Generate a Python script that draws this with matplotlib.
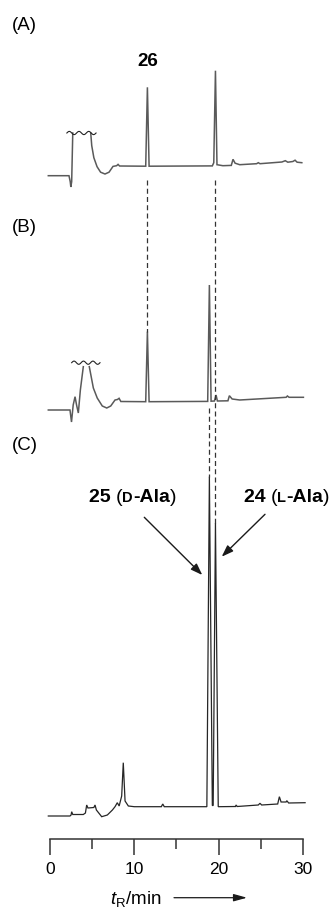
import numpy as np
import matplotlib
matplotlib.use('Agg')
import matplotlib.pyplot as plt
from matplotlib.offsetbox import TextArea, HPacker, AnnotationBbox

plt.rcParams['font.family'] = ['Liberation Sans', 'DejaVu Sans']
plt.rcParams['mathtext.fontset'] = 'custom'
plt.rcParams['mathtext.rm'] = 'Liberation Sans'
plt.rcParams['mathtext.it'] = 'Liberation Sans:italic'

nan = np.nan

# chromatogram (A): retention time [min] and detector signal [a.u.]
A_t = [-0.2, 2.25, 2.4, 2.47, 2.57, 2.7, nan,
       4.83, 4.95, 5.2, 5.58, 6.0, 6.52, 7.0, 7.47, 7.9, 8.07, 8.25,
       11.35, 11.55, 11.75, 19.25, 19.42, 19.62, 19.8, 20.5, 21.5, 21.7,
       21.95, 22.5, 24.5, 24.7, 24.9, 27.5, 27.9, 28.2, 28.8, 29.06, 29.3, 29.86]
A_s = [0, 0, -6, -11.3, -6, 42.7, nan,
       42.7, 30, 18, 9, 3.5, 1.7, 3.5, 9.3, 10, 11.3, 9.7,
       9.5, 88.4, 9.5, 9.8, 13, 105, 11, 10, 10.3, 16.4,
       12.5, 11, 12, 13, 12, 13.7, 15, 13.5, 14.2, 15.5, 13.5, 13]

# chromatogram (B)
B_t = [-0.2, 2.37, 2.55, 2.75, 2.97, 3.15, 3.36, 3.6, 3.95, nan,
       4.66, 5.14, 5.6, 6.2, 6.73, 7.2, 7.71, 8.0, 8.19, 8.4,
       11.35, 11.55, 11.75, 18.7, 18.9, 19.1, 19.5, 19.69, 19.85,
       21.1, 21.27, 21.6, 22.5, 28.0, 28.15, 28.35, 30.05]
B_s = [0, 0, -12, 5, 13.3, 5, -3, 20, 43.3, nan,
       43.3, 22, 12, 4, 2, 4, 10, 10.5, 11.7, 8.5,
       8.3, 78.3, 8.3, 8.6, 125, 8.8, 9, 15, 9,
       9.2, 14.3, 11, 10, 12.7, 14, 12.7, 12.7]

# chromatogram (C)
C_t = [-0.2, 2.37, 2.5, 2.57, 2.7, 3.95, 4.2, 4.35, 4.5, 5.2, 5.34, 5.5,
       6.13, 6.8, 7.4, 7.71, 7.98, 8.2, 8.5, 8.69, 8.9, 9.29, 10.0,
       13.2, 13.37, 13.55, 18.6, 18.9, 19.25, 19.35, 19.62, 19.95,
       22.0, 22.06, 22.2, 24.7, 24.9, 25.1, 27.0, 27.2, 27.4, 28.0,
       28.08, 28.3, 30.25]
C_s = [0, 0, 1, 4.3, 1.5, 1.5, 3, 11, 8, 8.5, 11, 6,
       -0.7, 1, 6, 9.3, 13.3, 10, 20, 53.3, 15, 10, 9.3,
       9.3, 12, 9.3, 9.3, 339.3, 10.5, 10.5, 293, 9.3,
       9.5, 11, 9.5, 11, 12.7, 11, 12, 19.3, 14, 14,
       15.3, 13, 13.3]

# clipped solvent fronts (A, B): time span of the break symbol
A_clip = (2.0, 5.46)
B_clip = (2.57, 5.93)

x_ticks = [0, 10, 20, 30]
x_minor = [5, 15, 25]

# layout (pixels from the top)
W, H = 332, 909
PX = 8.433           # pixels per minute
X0 = 50              # pixel of t = 0
base = {'A': 175.7, 'B': 410.0, 'C': 816.0}

fig = plt.figure(figsize=(W / 100, H / 100), dpi=100)
ax = fig.add_axes([0, 0, 1, 1])
ax.set_xlim(-X0 / PX, (W - X0) / PX)
ax.set_ylim(H, 0)
ax.axis('off')

grey = '#5a5a5a'
dark = '#262626'

def yv(key, s):
    return base[key] - np.asarray(s, dtype=float)

ax.plot(A_t, yv('A', A_s), color=grey, lw=1.1, solid_joinstyle='miter')
ax.plot(B_t, yv('B', B_s), color=grey, lw=1.1, solid_joinstyle='miter')
ax.plot(C_t, yv('C', C_s), color=dark, lw=0.9, solid_joinstyle='miter')

# break symbols over the clipped solvent peaks
for key, (t0, t1), s_top in [('A', A_clip, 42.7), ('B', B_clip, 47.3)]:
    tt = np.linspace(t0, t1, 80)
    ww = base[key] - s_top + 1.6 * np.sin((tt - t0) / (t1 - t0) * 3 * 2 * np.pi + np.pi)
    ax.plot(tt, ww, color='#222222', lw=0.8)

# dashed guide lines linking the same peaks
dash = dict(color='#333333', lw=0.9, ls=(0, (4.0, 2.6)))
tA1 = A_t[A_s.index(88.4)]
tA2 = A_t[A_s.index(105)]
tB2 = B_t[B_s.index(125)]
ax.plot([tA1, tA1], [base['A'] + 4, yv('B', 78.3)], **dash)
ax.plot([tA2, tA2], [base['A'] + 4, yv('C', 293)], **dash)
ax.plot([tB2, tB2], [base['B'] - 2, yv('C', 339.3)], **dash)

# panel labels
for lab, py in [('(A)', 25), ('(B)', 228), ('(C)', 445)]:
    fig.text(12 / W, 1 - py / H, lab, fontsize=13.5, ha='left', va='center')

ax.text(tA1, 61.7, '26', fontsize=13.5, fontweight='bold', ha='center', va='center')

def label(parts, xy):
    boxes = [TextArea(t, textprops=dict(fontsize=fs, fontweight=fw, color='black'))
             for t, fs, fw in parts]
    pk = HPacker(children=boxes, align='baseline', pad=0, sep=0)
    ab = AnnotationBbox(pk, xy, xycoords='data', frameon=False, box_alignment=(0.5, 0.5))
    ax.add_artist(ab)

label([('25 ', 14, 'bold'), ('(', 14, 'normal'), ('D', 10.5, 'bold'),
       ('-Ala', 14, 'bold'), (')', 14, 'normal')], ((132.5 - X0) / PX, 498))
label([('24 ', 14, 'bold'), ('(', 14, 'normal'), ('L', 10.5, 'bold'),
       ('-Ala', 14, 'bold'), (')', 14, 'normal')], ((286.5 - X0) / PX, 498))

arr = dict(arrowstyle='-|>,head_length=0.7,head_width=0.25', color='#1a1a1a', lw=1.0,
           shrinkA=0, shrinkB=0)
ax.annotate('', xy=((202.3 - X0) / PX, 575), xytext=((144.3 - X0) / PX, 517.3), arrowprops=arr)
ax.annotate('', xy=((221.7 - X0) / PX, 556.7), xytext=((265 - X0) / PX, 514.3), arrowprops=arr)

# time ruler
rax = fig.add_axes([X0 / W, 1 - 839.3 / H, 30 * PX / W, 0.0001])
rax.set_xlim(0, 30)
rax.patch.set_visible(False)
for sp in ['left', 'right', 'top']:
    rax.spines[sp].set_visible(False)
rax.spines['bottom'].set_linewidth(1.1)
rax.spines['bottom'].set_color('#333333')
rax.set_yticks([])
rax.set_xticks(x_ticks)
rax.set_xticks(x_minor, minor=True)
rax.tick_params(axis='x', which='major', length=11.5, width=1.1, direction='out',
                color='#333333', pad=5, labelsize=12.5)
rax.tick_params(axis='x', which='minor', length=7.5, width=1.1, direction='out',
                color='#333333')

fig.text(110 / W, 1 - 899 / H, r'$t_\mathrm{R}$/min', fontsize=13.5, ha='left', va='center')
ax.annotate('', xy=((247 - X0) / PX, 897.7), xytext=((174 - X0) / PX, 897.7),
            arrowprops=dict(arrowstyle='-|>,head_length=0.8,head_width=0.22',
                            color='#1a1a1a', lw=0.9, shrinkA=0, shrinkB=0))

fig.savefig('out.png', dpi=100)
